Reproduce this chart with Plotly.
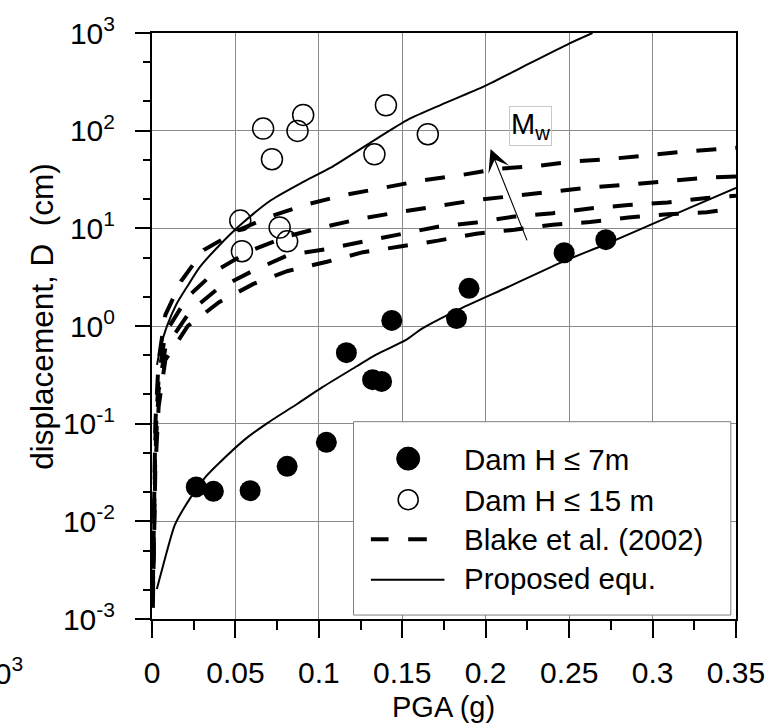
import math
import plotly.graph_objects as go

# ---------------- data ----------------
# Dam H <= 7 m (filled circles)
pga_h7 = [0.0265, 0.0368, 0.0588, 0.081, 0.1045, 0.1165, 0.1322, 0.1376, 0.1437, 0.1825, 0.190, 0.247, 0.272]
d_h7 = [0.0225, 0.0203, 0.0206, 0.0366, 0.0644, 0.533, 0.282, 0.271, 1.14, 1.19, 2.43, 5.62, 7.66]

# Dam H <= 15 m (open circles)
pga_h15 = [0.0529, 0.0539, 0.0666, 0.0719, 0.0765, 0.081, 0.0872, 0.0906, 0.1333, 0.1402, 0.1653]
d_h15 = [12.0, 5.83, 105, 51, 10.2, 7.36, 99.5, 145, 57.3, 182, 92]

# Blake et al. (2002) curves, highest magnitude first
blake_pga_1 = [0.0005, 0.001, 0.002, 0.004, 0.008, 0.0176, 0.031, 0.052, 0.0696, 0.093, 0.115, 0.138, 0.162, 0.184, 0.207, 0.23, 0.252, 0.275, 0.298, 0.321, 0.35]
blake_d_1 = [0.002, 0.015, 0.1, 0.45, 1.3, 2.9, 6.0, 9.6, 13.0, 17.6, 21.9, 25.9, 31.0, 34.8, 40.7, 43.3, 48.3, 51.4, 56.5, 61.4, 67.0]

blake_pga_2 = [0.0005, 0.001, 0.002, 0.004, 0.008, 0.0215, 0.0382, 0.058, 0.0814, 0.1037, 0.1266, 0.1496, 0.1714, 0.1943, 0.2173, 0.2402, 0.2625, 0.2855, 0.309, 0.3325, 0.35]
blake_d_2 = [0.0017, 0.011, 0.07, 0.3, 0.85, 2.0, 3.66, 5.8, 8.3, 10.4, 12.7, 14.8, 16.9, 19.5, 21.5, 23.6, 26.2, 28.1, 30.3, 33.0, 34.0]

blake_pga_3 = [0.0005, 0.001, 0.002, 0.004, 0.008, 0.0225, 0.0392, 0.0608, 0.0814, 0.1037, 0.1266, 0.1496, 0.1714, 0.1943, 0.2173, 0.2402, 0.2625, 0.2855, 0.309, 0.3325, 0.35]
blake_d_3 = [0.0015, 0.008, 0.05, 0.22, 0.6, 1.39, 2.39, 3.7, 5.3, 6.1, 7.3, 8.9, 10.4, 11.5, 13.2, 14.3, 16.0, 17.3, 18.4, 20.5, 21.5]

blake_pga_4 = [0.0005, 0.001, 0.002, 0.004, 0.008, 0.0215, 0.0402, 0.0608, 0.0814, 0.1049, 0.1265, 0.1496, 0.1714, 0.1943, 0.2173, 0.2402, 0.2625, 0.2855, 0.309, 0.3325, 0.35]
blake_d_4 = [0.0013, 0.006, 0.035, 0.15, 0.45, 1.0, 1.75, 2.7, 3.66, 4.55, 5.7, 6.55, 7.48, 8.81, 9.67, 10.9, 11.6, 12.9, 13.9, 14.6, 16.0]

# Proposed equation, upper and lower curves
prop_up_pga = [0.003, 0.005, 0.0088, 0.0147, 0.0215, 0.0284, 0.04, 0.0529, 0.0715, 0.09, 0.1068, 0.1343, 0.1539, 0.1735, 0.199, 0.2225, 0.25, 0.264]
prop_up_d = [0.4, 0.6, 0.98, 1.68, 2.6, 3.96, 6.6, 10.8, 19.5, 29.5, 41.5, 82, 131, 185, 284, 453, 780, 1000]

prop_lo_pga = [0.0029, 0.0068, 0.0137, 0.0235, 0.0325, 0.0412, 0.0559, 0.0696, 0.0872, 0.1019, 0.1225, 0.1343, 0.152, 0.1618, 0.1825, 0.2127, 0.247, 0.2715, 0.299, 0.3225, 0.35]
prop_lo_d = [0.00203, 0.0036, 0.0092, 0.0179, 0.029, 0.041, 0.0695, 0.1025, 0.16, 0.235, 0.385, 0.51, 0.716, 0.94, 1.44, 2.48, 4.62, 6.83, 10.9, 16.3, 25.9]

# Mw arrow (tail -> head)
mw_arrow_pga = [0.2251, 0.2029]
mw_arrow_d = [7.26, 64.8]

# axis ticks
x_ticks = [0, 0.05, 0.1, 0.15, 0.2, 0.25, 0.3, 0.35]
y_tickvals = [0.001, 0.01, 0.1, 1, 10, 100, 1000]
y_ticktext = ["10<sup>-3</sup>", "10<sup>-2</sup>", "10<sup>-1</sup>", "10<sup>0</sup>",
              "10<sup>1</sup>", "10<sup>2</sup>", "10<sup>3</sup>"]

legend_labels = ["Dam H \u2264 7m", "Dam H \u2264 15 m", "Blake et al. (2002)", "Proposed equ."]

# ---------------- figure ----------------
FONT = "Liberation Sans, Arial, sans-serif"
W, H = 777, 726
ML, MR, MT, MB = 152, 30, 26, 107
PW, PH = W - ML - MR, H - MT - MB


def px(xp):
    return (xp - ML) / PW


def py(yp):
    return (H - MB - yp) / PH


fig = go.Figure()

blake = [(blake_pga_1, blake_d_1), (blake_pga_2, blake_d_2),
         (blake_pga_3, blake_d_3), (blake_pga_4, blake_d_4)]
for bx, by in blake:
    fig.add_trace(go.Scatter(x=bx, y=by, mode="lines", name=legend_labels[2],
                             line=dict(color="black", width=4, dash="20px,19px"),
                             showlegend=False))

for bx, by in [(prop_up_pga, prop_up_d), (prop_lo_pga, prop_lo_d)]:
    fig.add_trace(go.Scatter(x=bx, y=by, mode="lines", name=legend_labels[3],
                             line=dict(color="black", width=2, shape="spline", smoothing=0.6),
                             showlegend=False))

fig.add_trace(go.Scatter(x=pga_h15, y=d_h15, mode="markers", name=legend_labels[1],
                         marker=dict(symbol="circle-open", size=21, color="black",
                                     line=dict(width=1.5, color="black")),
                         showlegend=False))
fig.add_trace(go.Scatter(x=pga_h7, y=d_h7, mode="markers", name=legend_labels[0],
                         marker=dict(symbol="circle", size=21, color="black"),
                         showlegend=False))

annotations = []
# y-axis title
annotations.append(dict(x=px(40), y=py(313), xref="paper", yref="paper",
                        text="displacement, D  (cm)", textangle=-90, showarrow=False,
                        xanchor="center", yanchor="middle",
                        font=dict(family=FONT, size=31.5, color="black")))
# x-axis title
annotations.append(dict(x=px(449), y=py(708), xref="paper", yref="paper",
                        text="PGA (g)", showarrow=False, xanchor="center", yanchor="middle",
                        font=dict(family=FONT, size=29, color="black")))
# Mw label
annotations.append(dict(x=0.2271, y=2.045, xref="x", yref="y", text="M<sub>w</sub>",
                        showarrow=False, font=dict(family=FONT, size=29, color="black"),
                        bordercolor="#c8c8c8", borderwidth=1, borderpad=1,
                        xanchor="center", yanchor="middle"))
# Mw arrow
annotations.append(dict(x=mw_arrow_pga[1], y=math.log10(mw_arrow_d[1]),
                        ax=mw_arrow_pga[0], ay=math.log10(mw_arrow_d[0]),
                        xref="x", yref="y", axref="x", ayref="y", text="",
                        showarrow=True, arrowhead=3, arrowsize=3.4, arrowwidth=1.1,
                        arrowcolor="black", standoff=0, startstandoff=0))
# clipped label at bottom-left
annotations.append(dict(x=px(23), y=py(672), xref="paper", yref="paper",
                        text="10<sup>3</sup>", showarrow=False, xanchor="right", yanchor="middle",
                        font=dict(family=FONT, size=30, color="black")))

# legend texts
row_y = [458, 499, 539, 578]
for lab, ry in zip(legend_labels, row_y):
    annotations.append(dict(x=px(468), y=py(ry), xref="paper", yref="paper", text=lab,
                            showarrow=False, xanchor="left", yanchor="middle",
                            font=dict(family=FONT, size=29.5, color="black")))

shapes = []
# legend box
shapes.append(dict(type="rect", xref="paper", yref="paper", x0=px(357.3), x1=px(741.7),
                   y0=py(615), y1=py(419.3), fillcolor="white",
                   line=dict(color="#808080", width=1), layer="above"))
# legend symbols
shapes.append(dict(type="circle", xref="paper", yref="paper", xsizemode="pixel", ysizemode="pixel",
                   xanchor=px(413), yanchor=py(456.7), x0=-11.5, x1=11.5, y0=-11.5, y1=11.5,
                   fillcolor="black", line=dict(color="black", width=1), layer="above"))
shapes.append(dict(type="circle", xref="paper", yref="paper", xsizemode="pixel", ysizemode="pixel",
                   xanchor=px(413), yanchor=py(498.3), x0=-10, x1=10, y0=-10, y1=10,
                   fillcolor="rgba(0,0,0,0)", line=dict(color="black", width=1.5), layer="above"))
for a, b in [(375, 393), (413, 432)]:
    shapes.append(dict(type="line", xref="paper", yref="paper", x0=px(a), x1=px(b),
                       y0=py(538.3), y1=py(538.3), line=dict(color="black", width=4), layer="above"))
shapes.append(dict(type="line", xref="paper", yref="paper", x0=px(375), x1=px(450),
                   y0=py(579.3), y1=py(579.3), line=dict(color="black", width=2), layer="above"))

fig.update_layout(
    width=W, height=H,
    margin=dict(l=ML, r=MR, t=MT, b=MB, pad=0),
    paper_bgcolor="white", plot_bgcolor="white",
    font=dict(family=FONT, size=28, color="black"),
    showlegend=False,
    annotations=annotations,
    shapes=shapes,
)

fig.update_xaxes(
    range=[0, 0.35], tickvals=x_ticks, ticks="outside", ticklen=17, tickwidth=2, tickcolor="black",
    showline=True, linecolor="black", linewidth=2, mirror=True,
    showgrid=True, gridcolor="#8a8a8a", gridwidth=1, zeroline=False,
    minor=dict(dtick=0.025, ticks="outside", ticklen=9, tickwidth=2, tickcolor="black", showgrid=False),
    tickfont=dict(family=FONT, size=30), ticklabelstandoff=9,
)
fig.update_yaxes(
    type="log", range=[-3, 3], tickvals=y_tickvals, ticktext=y_ticktext,
    ticks="outside", ticklen=15, tickwidth=2, tickcolor="black",
    showline=True, linecolor="black", linewidth=2, mirror=True,
    showgrid=True, gridcolor="#8a8a8a", gridwidth=1, zeroline=False,
    minor=dict(ticks="outside", ticklen=7, tickwidth=1.5, tickcolor="black", showgrid=False),
    tickfont=dict(family=FONT, size=30), ticklabelstandoff=14,
)

fig.write_html("out.html")
